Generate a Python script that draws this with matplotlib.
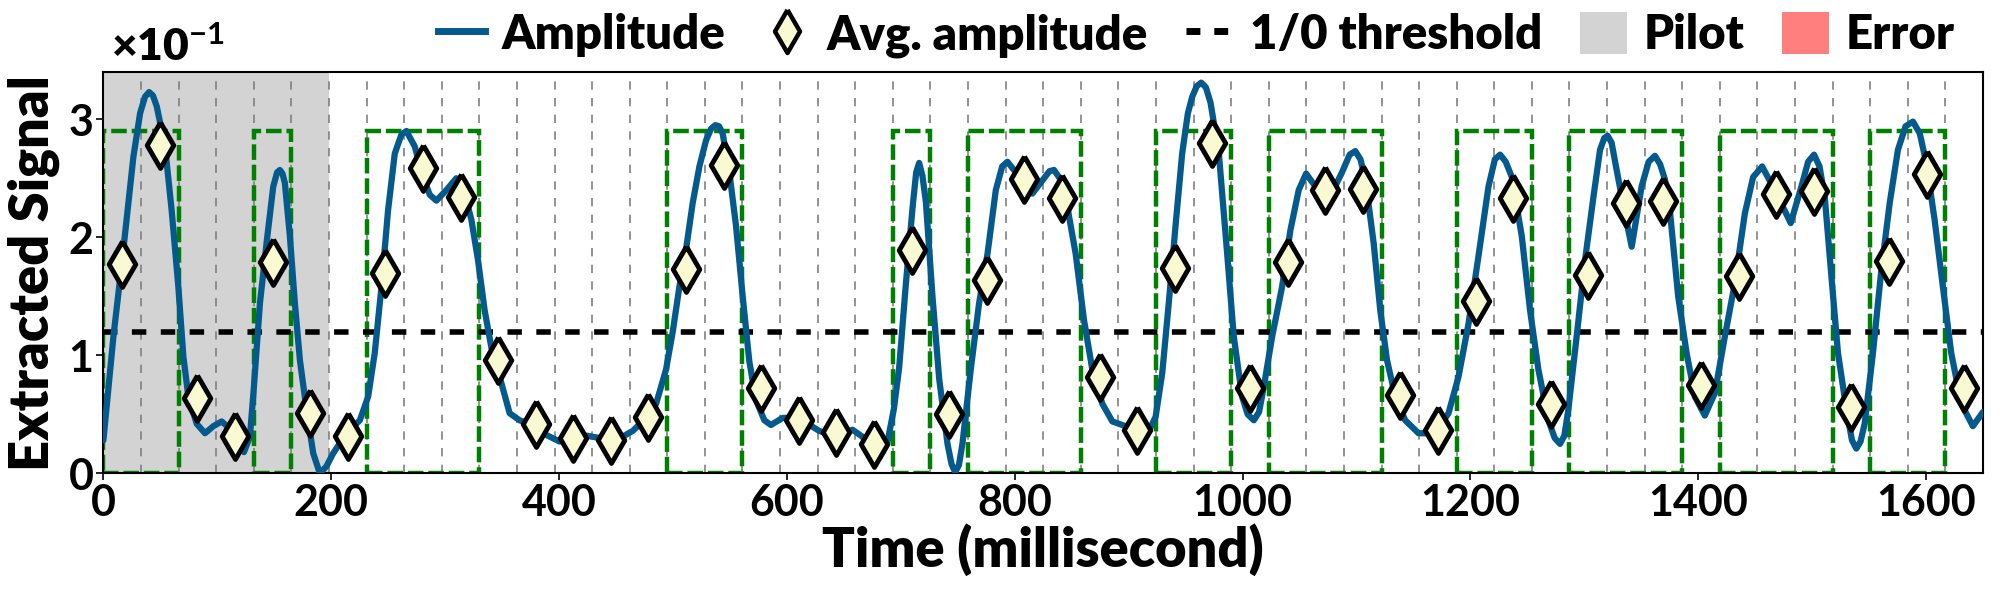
import numpy as np
import matplotlib.pyplot as plt
from matplotlib.lines import Line2D
from matplotlib.patches import Patch, Rectangle
from matplotlib.ticker import FuncFormatter

plt.rcParams['font.family'] = ['Lato', 'DejaVu Sans']
plt.rcParams['font.weight'] = 'bold'
plt.rcParams['mathtext.fontset'] = 'custom'
plt.rcParams['mathtext.rm'] = 'Lato:bold'
plt.rcParams['mathtext.bf'] = 'Lato:bold'
plt.rcParams['mathtext.default'] = 'bf'

# symbol timing (ms)
symbol_ms = 33
n_symbols = 50
pilot_end = 198
threshold = 1.2e-1
box_top = 2.9e-1
y_scale_exp = -1

# decoded bits per symbol (1 -> green dashed box)
bits = [1, 1, 0, 0, 1, 0, 0, 1, 1, 1,
        0, 0, 0, 0, 0, 1, 1, 0, 0, 0,
        0, 1, 0, 1, 1, 1, 0, 0, 1, 1,
        0, 1, 1, 1, 0, 0, 1, 1, 0, 1,
        1, 1, 0, 1, 1, 1, 0, 1, 1, 0]

# average amplitude per symbol (x1e-1)
avg_amp = np.array([1.77, 2.78, 0.64, 0.32, 1.79, 0.51, 0.32, 1.70, 2.59, 2.34,
                    0.96, 0.42, 0.30, 0.28, 0.48, 1.73, 2.61, 0.72, 0.45, 0.35,
                    0.25, 1.89, 0.50, 1.64, 2.49, 2.33, 0.82, 0.37, 1.74, 2.80,
                    0.72, 1.79, 2.40, 2.41, 0.66, 0.37, 1.46, 2.33, 0.59, 1.68,
                    2.29, 2.31, 0.75, 1.67, 2.37, 2.39, 0.56, 1.80, 2.54, 0.72]) * 1e-1

# error symbols (none in this trace)
error_symbols = []

# amplitude trace: time (ms), value (x1e-1)
amp_t = np.array([
    0.0, 8.8, 16.1, 26.3, 32.2, 36.5, 40.1, 43.5, 46.8, 54.1, 59.9, 65.8,
    70.2, 74.6, 81.9, 89.2, 96.5, 103.8, 111.1, 118.4, 123.4, 128.6,
    132.1, 137.4, 143.2, 149.1, 152.5, 154.9, 157.2, 159.3, 163.7, 168.1, 172.5, 178.3,
    184.2, 190.0, 195.8, 201.7, 213.4, 225.1, 232.4, 238.2, 244.1, 249.9,
    255.8, 261.6, 266.0, 273.3, 280.6, 286.5, 292.3, 301.1, 309.8, 317.1,
    323.0, 328.8, 334.7, 340.5, 347.8, 356.6, 365.3, 374.1, 385.8, 400.4,
    412.1, 423.8, 435.5, 450.1, 464.7, 476.4, 485.2, 493.9, 499.8, 505.6,
    511.5, 517.3, 523.2, 529.0, 533.5, 537.2, 540.5, 543.6, 549.5, 555.3, 561.2, 567.0,
    572.9, 580.2, 586.0, 596.2, 605.0, 616.7, 628.4, 643.0, 657.6, 666.4,
    675.1, 681.0, 688.0, 694.0, 698.6, 704.4, 710.3, 713.5, 716.1, 719.0, 722.0, 727.8,
    733.7, 741.0, 744.5, 747.7, 751.0, 754.1, 761.4, 768.7, 776.1, 783.4, 789.0, 793.6, 800.9,
    808.2, 815.5, 825.7, 830.5, 834.5, 839.5, 844.7, 853.5, 860.8, 868.1, 876.9, 885.7,
    897.3, 909.0, 917.8, 923.7, 929.5, 935.3, 941.2, 947.0, 952.0, 955.8, 959.8, 963.7,
    967.8, 971.9, 979.2, 986.5, 992.3, 999.6, 1004.5, 1009.9, 1014.5, 1018.6, 1026.0, 1034.7, 1042.0,
    1049.3, 1055.8, 1063.9, 1075.6, 1087.3, 1094.0, 1099.0, 1103.5, 1107.8, 1115.1, 1120.9, 1126.8,
    1134.1, 1142.8, 1154.5, 1169.1, 1180.8, 1189.6, 1198.4, 1207.1, 1215.9, 1221.5, 1226.1,
    1231.0, 1236.4, 1245.1, 1252.4, 1259.7, 1268.5, 1274.0, 1278.7, 1282.5, 1286.0, 1293.3, 1300.7, 1308.0,
    1313.8, 1317.5, 1320.5, 1324.0, 1328.4, 1335.7, 1341.6, 1350.3, 1356.5, 1362.0, 1366.5, 1370.8, 1375.1, 1382.4,
    1389.8, 1397.1, 1405.8, 1414.6, 1423.4, 1432.1, 1440.9, 1448.2, 1456.1, 1467.2,
    1481.2, 1490.6, 1496.5, 1501.7, 1506.5, 1511.1, 1516.9, 1522.7, 1530.1, 1535.0, 1538.8, 1542.5, 1546.1, 1553.4,
    1560.7, 1568.1, 1575.3, 1582.0, 1588.5, 1594.5, 1600.2, 1607.5, 1614.8, 1622.1, 1630.9, 1641.1,
    1650.0])
amp_v = np.array([
    0.28, 1.16, 1.77, 2.68, 3.05, 3.19, 3.23, 3.20, 3.11, 2.77, 2.23, 1.58,
    0.99, 0.65, 0.42, 0.34, 0.40, 0.44, 0.38, 0.25, 0.18, 0.31,
    0.73, 1.44, 1.95, 2.43, 2.55, 2.57, 2.54, 2.46, 2.01, 1.44, 0.96, 0.54,
    0.17, 0.00, 0.06, 0.17, 0.34, 0.45, 0.65, 1.02, 1.58, 2.23,
    2.71, 2.87, 2.90, 2.77, 2.51, 2.36, 2.31, 2.40, 2.50, 2.37,
    2.15, 1.81, 1.38, 1.07, 0.82, 0.51, 0.45, 0.42, 0.34, 0.27,
    0.30, 0.32, 0.30, 0.28, 0.36, 0.47, 0.59, 0.88, 1.20, 1.58,
    1.90, 2.29, 2.60, 2.82, 2.92, 2.95, 2.94, 2.88, 2.55, 2.10, 1.50, 0.95,
    0.62, 0.45, 0.41, 0.47, 0.47, 0.43, 0.36, 0.31, 0.37, 0.31,
    0.20, 0.13, 0.25, 0.55, 0.90, 1.60, 2.25, 2.55, 2.63, 2.52, 2.30, 1.50,
    0.80, 0.25, 0.08, 0.01, 0.07, 0.25, 0.88, 1.44, 1.86, 2.40, 2.60, 2.64, 2.55,
    2.43, 2.37, 2.50, 2.56, 2.57, 2.50, 2.34, 1.86, 1.30, 0.88, 0.59, 0.44,
    0.40, 0.35, 0.36, 0.48, 0.85, 1.45, 2.10, 2.71, 3.05, 3.19, 3.28, 3.31,
    3.27, 3.14, 2.71, 1.86, 1.16, 0.65, 0.50, 0.45, 0.52, 0.73, 1.16, 1.58, 2.06,
    2.40, 2.54, 2.43, 2.32, 2.55, 2.70, 2.73, 2.66, 2.49, 1.95, 1.38, 0.96,
    0.65, 0.45, 0.34, 0.34, 0.51, 0.82, 1.27, 1.84, 2.43, 2.66, 2.70,
    2.64, 2.51, 2.01, 1.38, 0.88, 0.45, 0.30, 0.25, 0.32, 0.54, 1.16, 1.81, 2.34,
    2.74, 2.84, 2.86, 2.80, 2.57, 2.20, 1.92, 2.43, 2.64, 2.69, 2.62, 2.49, 2.23, 1.50,
    1.02, 0.65, 0.49, 0.68, 1.16, 1.61, 2.20, 2.51, 2.60, 2.40,
    2.12, 2.43, 2.64, 2.70, 2.60, 2.34, 1.67, 1.02, 0.54, 0.28, 0.21, 0.27, 0.42, 1.02,
    1.72, 2.29, 2.74, 2.94, 2.98, 2.88, 2.63, 2.15, 1.58, 1.02, 0.59, 0.40,
    0.52]) * 1e-1

line_color = '#045a8d'
box_color = 'green'
diamond_fill = 'lightgoldenrodyellow'
pilot_color = 'lightgray'
error_color = '#ff7f7f'
diamond = [(0, 1), (0.58, 0), (0, -1), (-0.58, 0), (0, 1)]

fig, ax = plt.subplots(figsize=(20, 6), dpi=100)
fig.subplots_adjust(left=0.0517, right=0.9915, top=0.88, bottom=0.211)

# pilot region
ax.axvspan(0, pilot_end, color=pilot_color, zorder=0, lw=0)
for k in error_symbols:
    ax.axvspan(k * symbol_ms, (k + 1) * symbol_ms, color=error_color, zorder=0, lw=0)

# symbol boundaries
for k in range(1, n_symbols):
    ax.axvline(k * symbol_ms, color='gray', lw=1.2, ls=(0, (5, 5)), zorder=1)

# green boxes around runs of 1 bits
k = 0
while k < n_symbols:
    if bits[k] == 1:
        start = k
        while k < n_symbols and bits[k] == 1:
            k += 1
        rect = Rectangle((start * symbol_ms, 0), (k - start) * symbol_ms, box_top,
                         fill=False, edgecolor=box_color, lw=3.2, ls=(0, (3.5, 1.1)), zorder=2)
        ax.add_patch(rect)
    else:
        k += 1

ax.axhline(threshold, color='black', lw=4, ls=(0, (2.6, 2.6)), zorder=3)
ax.plot(amp_t, amp_v, color=line_color, lw=4.5, zorder=4,
        solid_joinstyle='round', solid_capstyle='round')

centers = (np.arange(n_symbols) + 0.5) * symbol_ms
ax.plot(centers, avg_amp, ls='none', marker=diamond, markersize=33, markerfacecolor=diamond_fill,
        markeredgecolor='black', markeredgewidth=3.5, zorder=5)

ax.set_xlim(0, n_symbols * symbol_ms)
ax.set_ylim(0, 0.34)
ax.set_xticks(np.arange(0, 1601, 200))
ax.set_yticks([0, 0.1, 0.2, 0.3])

# y ticks shown in units of 10^-1, with the multiplier above the axis
ax.yaxis.set_major_formatter(FuncFormatter(lambda v, pos: f'{v / 10 ** y_scale_exp:g}'))
ax.text(0.004, 1.01, '×10' + rf'$^{{\mathbf{{{y_scale_exp}}}}}$', transform=ax.transAxes,
        fontsize=32, fontweight='heavy', ha='left', va='bottom')

ax.tick_params(axis='both', labelsize=31, length=5, width=1.2, pad=2)
for s in ax.spines.values():
    s.set_linewidth(1.5)

ax.set_xlabel('Time (millisecond)', fontsize=39, fontweight='heavy', labelpad=0)
ax.set_ylabel('Extracted Signal', fontsize=39, fontweight='heavy', labelpad=6)

handles = [
    Line2D([], [], color=line_color, lw=5),
    Line2D([], [], ls='none', marker=diamond, markersize=31, markerfacecolor=diamond_fill,
           markeredgecolor='black', markeredgewidth=3.2),
    Line2D([], [], color='black', lw=5, ls=(0, (2, 2))),
    Patch(facecolor=pilot_color),
    Patch(facecolor=error_color),
]
labels = ['Amplitude', 'Avg. amplitude', '1/0 threshold', 'Pilot', 'Error']
leg = ax.legend(handles, labels, loc='lower right', bbox_to_anchor=(0.985, 1.035), ncol=5,
                frameon=False, fontsize=34, handlelength=1.0, handleheight=1.0,
                handletextpad=0.35, columnspacing=0.8, borderpad=0.0, borderaxespad=0.0)
for t in leg.get_texts():
    t.set_fontweight('heavy')

fig.savefig('out.png', dpi=100)
